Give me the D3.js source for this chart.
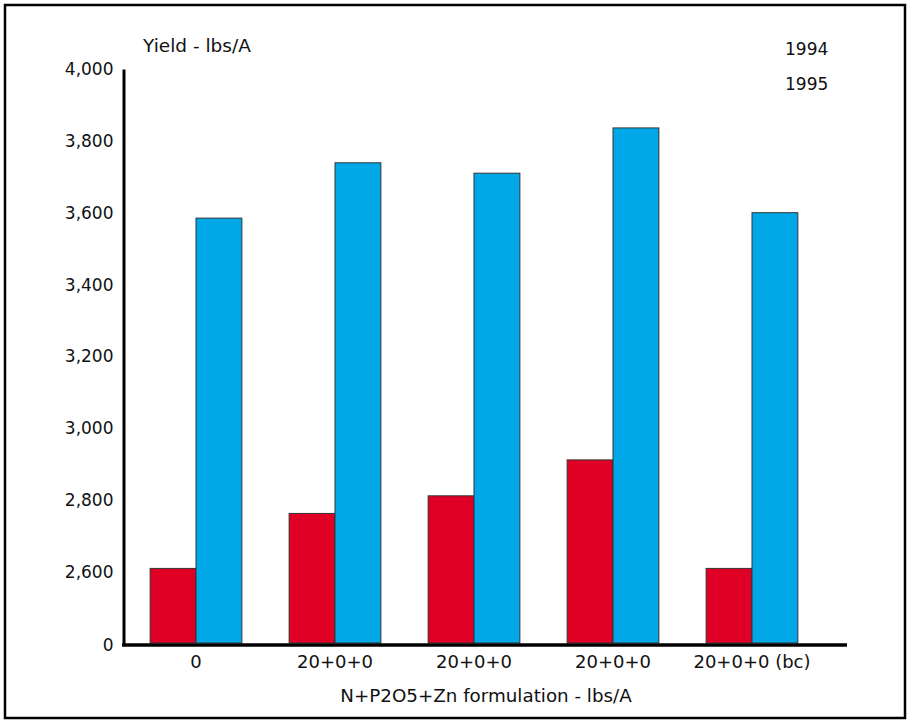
<!DOCTYPE html>
<html>
<head>
<meta charset="utf-8">
<script src="https://cdn.jsdelivr.net/npm/d3@7"></script>
<style>
  body { margin: 0; background: #fff; }
  text { font-family: "DejaVu Sans", sans-serif; fill: #111; }
</style>
</head>
<body>
<svg id="chart" width="908" height="721"></svg>
<script>
// chart data
const categories = ["0", "20+0+0", "20+0+0", "20+0+0", "20+0+0 (bc)"];
const years = ["1994", "1995"];
const yield1994 = [2610, 2763, 2812, 2912, 2610];
const yield1995 = [3585, 3739, 3710, 3836, 3600];
const yTicks = [0, 2600, 2800, 3000, 3200, 3400, 3600, 3800, 4000];

const colors = { "1994": "#e00025", "1995": "#00a8e8" };

const svg = d3.select("#chart");

// outer frame
svg.append("rect")
  .attr("x", 5).attr("y", 5)
  .attr("width", 900).attr("height", 713)
  .attr("fill", "none")
  .attr("stroke", "#000")
  .attr("stroke-width", 2.5);

// broken y scale: 0 then 2,600 .. 4,000
const y = d3.scaleLinear()
  .domain([0, 2600, 4000])
  .range([645, 572, 69]);

const x0 = d3.scaleBand()
  .domain(d3.range(categories.length))
  .range([126.5, 821.5])
  .paddingInner(0.34)
  .paddingOuter(0.17);

const x1 = d3.scaleBand()
  .domain(years)
  .range([0, x0.bandwidth()]);

const rows = categories.map((c, i) => ({
  i: i,
  values: [
    { year: "1994", value: yield1994[i] },
    { year: "1995", value: yield1995[i] }
  ]
}));

// bars
svg.append("g")
  .selectAll("g")
  .data(rows)
  .join("g")
  .attr("transform", d => `translate(${x0(d.i)},0)`)
  .selectAll("rect")
  .data(d => d.values)
  .join("rect")
  .attr("x", d => x1(d.year))
  .attr("y", d => y(d.value))
  .attr("width", x1.bandwidth())
  .attr("height", d => y(0) - 2 - y(d.value))
  .attr("fill", d => colors[d.year])
  .attr("stroke", "#333")
  .attr("stroke-width", 1);

// y axis
const yAxis = svg.append("g")
  .attr("transform", "translate(123.5,0)")
  .call(d3.axisLeft(y).tickValues(yTicks).tickSize(0).tickPadding(10)
    .tickFormat(d3.format(",")));
yAxis.select(".domain").attr("stroke", "#000").attr("stroke-width", 3);
yAxis.selectAll("text")
  .style("font-family", "DejaVu Sans, sans-serif")
  .style("font-size", "17px")
  .attr("fill", "#111");

// x axis
svg.append("line")
  .attr("x1", 122).attr("x2", 847)
  .attr("y1", 645).attr("y2", 645)
  .attr("stroke", "#000")
  .attr("stroke-width", 3.5);

const xAxis = svg.append("g")
  .attr("transform", "translate(0,645)")
  .call(d3.axisBottom(x0).tickSize(0).tickPadding(10)
    .tickFormat(i => categories[i]));
xAxis.select(".domain").remove();
xAxis.selectAll("text")
  .style("font-family", "DejaVu Sans, sans-serif")
  .style("font-size", "18px")
  .attr("fill", "#111");

// titles
svg.append("text")
  .attr("x", 143).attr("y", 52)
  .style("font-size", "18.5px")
  .text("Yield - lbs/A");

svg.append("text")
  .attr("x", 486).attr("y", 702)
  .attr("text-anchor", "middle")
  .style("font-size", "18.3px")
  .text("N+P2O5+Zn formulation - lbs/A");

// legend (text only)
svg.append("g")
  .selectAll("text")
  .data(years)
  .join("text")
  .attr("x", 785)
  .attr("y", (d, i) => 55 + i * 35)
  .style("font-size", "17px")
  .text(d => d);
</script>
</body>
</html>
